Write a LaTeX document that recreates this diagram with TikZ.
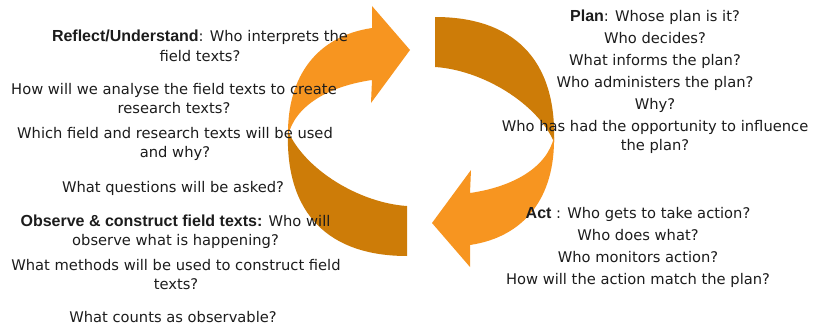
\documentclass[tikz,border=0pt]{standalone}
\usepackage{fontspec}
\setmainfont{DejaVu Sans}
\newfontfamily\phasefont{Liberation Sans}
\definecolor{arrowlight}{RGB}{247,149,32}
\definecolor{arrowdark}{RGB}{205,124,8}
\definecolor{ink}{RGB}{28,28,28}
% bold heading at the start of each phase block
\newcommand\phase[1]{{\phasefont\bfseries\fontsize{16}{19}\selectfont #1}}
\begin{document}
\begin{tikzpicture}[x=1pt,y=-1pt,
  front/.style={fill=arrowlight},
  back/.style={fill=arrowdark},
  % blocks are placed by the baseline of their last line
  question/.style={align=center,anchor=base,inner sep=0pt,text=ink,
    font=\fontsize{14.7}{19}\selectfont}]
\useasboundingbox (0,0) rectangle (814,329);

% the two back bands of the cycle (second one turned half a revolution)
\foreach \turn in {0,180}{
  \begin{scope}[rotate around={\turn:(421,136.5)}]
    \fill[back] (288,131) .. controls (285,215) and (330,256) .. (407,256)
      -- (407,206) .. controls (360,203) and (305,170) .. (288,131) -- cycle;
  \end{scope}
}
% the two front arrows
\foreach \turn in {0,180}{
  \begin{scope}[rotate around={\turn:(421,136.5)}]
    \fill[front] (288,136) .. controls (287,75) and (318,36) .. (372,28)
      -- (372,6) -- (410,50) -- (371,103) -- (372,80)
      .. controls (330,86) and (295,105) .. (288,136) -- cycle;
  \end{scope}
}

% left column: reflect and observe
\node[question] (reflect) at (200,62)
  {\phase{Reflect/Understand}: Who interprets the\\[1pt]field texts?};
\node[question] (analyse) at (174,113)
  {How will we analyse the field texts to create\\[-1pt]research texts?};
\node[question] (select) at (175,157)
  {Which field and research texts will be used\\and why?};
\node[question] (ask) at (173,192) {What questions will be asked?};
\node[question] (observe) at (175.5,245)
  {\phase{Observe \& construct field texts:} Who will\\observe what is happening?};
\node[question] (methods) at (176,289)
  {What methods will be used to construct field\\texts?};
\node[question] (observable) at (173,322) {What counts as observable?};

% right column: plan and act
\node[question] (plan) at (655,150)
  {\phase{Plan}: Whose plan is it?\\[3pt]Who decides?\\[3pt]What informs the plan?\\[3pt]%
   Who administers the plan?\\[3pt]Why?\\[3pt]Who has had the opportunity to influence\\the plan?};
\node[question] (act) at (638,284)
  {\phase{Act} : Who gets to take action?\\[3pt]Who does what?\\[3pt]Who monitors action?\\[3pt]%
   How will the action match the plan?};
\end{tikzpicture}
\end{document}
